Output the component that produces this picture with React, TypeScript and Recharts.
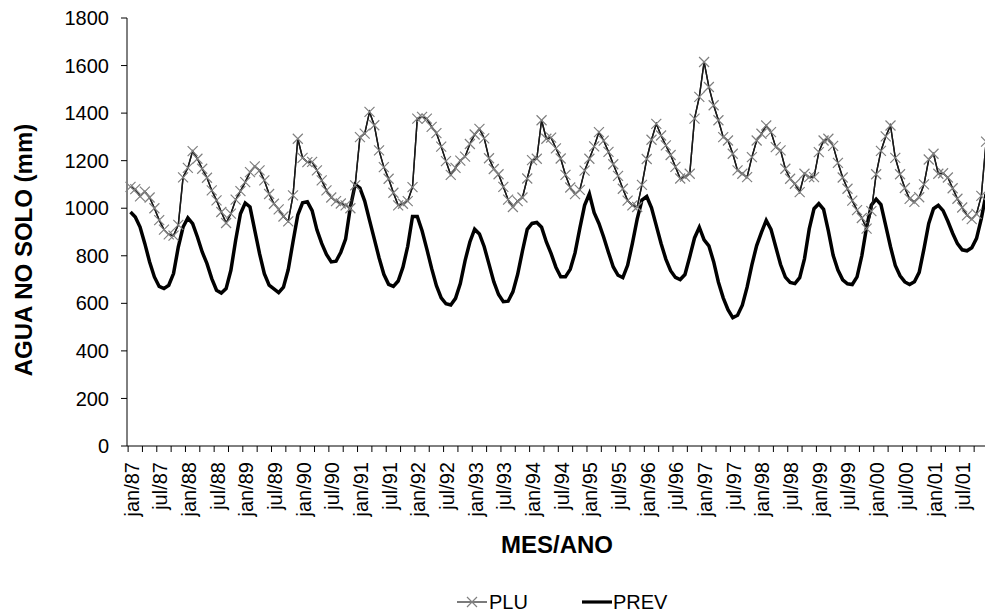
import React from 'react';
import { LineChart, Line, XAxis, YAxis } from 'recharts';

const MONTHS = ['jan', 'fev', 'mar', 'abr', 'mai', 'jun', 'jul', 'ago', 'set', 'out', 'nov', 'dez'];
const YEARS = ['87', '88', '89', '90', '91', '92', '93', '94', '95', '96', '97', '98', '99', '00', '01'];
const CATEGORIES = YEARS.flatMap((y) => MONTHS.map((m) => `${m}/${y}`));

const PLU = [
  1090, 1080, 1050, 1070, 1045, 1000, 950, 910, 890, 885,
  930, 1130, 1170, 1240, 1208, 1166, 1128, 1075, 1033, 984,
  938, 977, 1036, 1072, 1110, 1152, 1176, 1159, 1117, 1060,
  1019, 995, 965, 945, 1054, 1292, 1212, 1194, 1195, 1159,
  1117, 1075, 1045, 1030, 1020, 1012, 1000, 1096, 1299, 1314,
  1405, 1349, 1243, 1173, 1124, 1065, 1012, 1019, 1030, 1089,
  1377, 1384, 1377, 1342, 1316, 1259, 1198, 1140, 1170, 1200,
  1217, 1270, 1310, 1334, 1294, 1210, 1165, 1143, 1090, 1036,
  1005, 1030, 1045, 1125, 1202, 1208, 1370, 1292, 1297, 1252,
  1209, 1140, 1087, 1059, 1077, 1158, 1208, 1260, 1320, 1284,
  1237, 1185, 1136, 1082, 1032, 1012, 1005, 1098, 1207, 1288,
  1355, 1306, 1264, 1224, 1174, 1125, 1133, 1145, 1377, 1468,
  1615, 1510, 1433, 1370, 1299, 1285, 1229, 1159, 1145, 1131,
  1215, 1285, 1313, 1348, 1320, 1257, 1243, 1166, 1124, 1103,
  1068, 1145, 1131, 1131, 1236, 1285, 1292, 1262, 1191, 1129,
  1082, 1032, 992, 959, 914, 988, 1143, 1241, 1302, 1348,
  1212, 1143, 1085, 1039, 1027, 1046, 1100, 1205, 1229, 1145,
  1147, 1129, 1084, 1040, 1003, 970, 954, 976, 1052, 1280,
];

const PREV = [
  984, 963, 921, 851, 774, 711, 671, 662, 676, 725,
  837, 921, 959, 935, 879, 816, 767, 704, 655, 643,
  662, 739, 865, 977, 1022, 1005, 907, 809, 725, 676,
  661, 645, 668, 742, 859, 972, 1023, 1027, 990, 909,
  852, 806, 774, 777, 815, 870, 1005, 1100, 1085, 1030,
  950, 871, 792, 722, 680, 671, 694, 752, 840, 965,
  965, 905, 828, 747, 674, 623, 598, 593, 621, 683,
  780, 858, 912, 892, 838, 765, 691, 637, 607, 609,
  648, 722, 820, 911, 936, 940, 920, 858, 809, 752,
  712, 712, 743, 812, 915, 1012, 1061, 981, 936, 878,
  814, 753, 718, 708, 760, 852, 954, 1034, 1049, 1002,
  927, 852, 786, 737, 709, 700, 721, 796, 875, 920,
  867, 842, 775, 689, 623, 573, 540, 550, 592, 668,
  762, 843, 898, 949, 911, 837, 763, 710, 688, 683,
  708, 787, 913, 998, 1019, 995, 905, 802, 740, 699,
  682, 679, 711, 800, 921, 1013, 1038, 1015, 927, 838,
  759, 716, 690, 679, 691, 730, 829, 936, 998, 1012,
  990, 945, 895, 851, 825, 821, 834, 873, 956, 1060,
];

const Y_TICKS = [0, 200, 400, 600, 800, 1000, 1200, 1400, 1600, 1800];

const data = CATEGORIES.map((mes, i) => ({ mes, PLU: PLU[i], PREV: PREV[i] }));

const FONT = '"Liberation Sans", Arial, Helvetica, sans-serif';
const BAND = 4.78;

function XTick(props: any) {
  const { x, y, payload } = props;
  const value = payload?.value;
  const index = CATEGORIES.indexOf(value);
  const els: any[] = [];
  if (index % 3 === 0) {
    const tx = x - BAND / 2;
    els.push(<line key="t" x1={tx} x2={tx} y1={y} y2={y + 6} stroke="#000" strokeWidth={1} />);
  }
  if (index % 6 === 0) {
    const lx = x + 8;
    const ly = y + 16;
    els.push(
      <text
        key="l"
        x={lx}
        y={ly}
        transform={`rotate(-90 ${lx} ${ly})`}
        textAnchor="end"
        fontSize={20}
        fontFamily={FONT}
        fill="#000"
      >
        {value}
      </text>
    );
  }
  return <g>{els}</g>;
}

function XDot(props: any) {
  const { cx, cy, index } = props;
  if (cx == null || cy == null) return <g key={`e${index}`} />;
  const s = 5;
  return (
    <path
      key={`d${index}`}
      d={`M${cx - s},${cy - s}L${cx + s},${cy + s}M${cx - s},${cy + s}L${cx + s},${cy - s}`}
      stroke="#808080"
      strokeWidth={1.2}
      fill="none"
    />
  );
}

export default function App() {
  return (
    <div
      style={{
        position: 'absolute',
        left: 0,
        top: 0,
        width: 985,
        height: 613,
        overflow: 'hidden',
        background: '#fff',
      }}
    >
      <LineChart
        width={990}
        height={613}
        data={data}
        margin={{ top: 18, right: 1.5, bottom: 97, left: 0 }}
      >
        <XAxis
          dataKey="mes"
          interval={0}
          tick={(p: any) => <XTick {...p} />}
          tickLine={false}
          tickSize={0}
          tickMargin={0}
          axisLine={{ stroke: '#000', strokeWidth: 1 }}
          height={70}
          padding={{ left: 3.5, right: 2.4 }}
        />
        <YAxis
          domain={[0, 1800]}
          ticks={Y_TICKS}
          width={127}
          tickSize={6}
          tickMargin={12}
          interval={0}
          tick={{ fontSize: 20, fill: '#000', fontFamily: FONT }}
          axisLine={{ stroke: '#000', strokeWidth: 1 }}
          tickLine={{ stroke: '#000', strokeWidth: 1 }}
          allowDataOverflow
        />
        <Line
          type="linear"
          dataKey="PREV"
          stroke="#000"
          strokeWidth={3.5}
          dot={false}
          isAnimationActive={false}
        />
        <Line
          type="linear"
          dataKey="PLU"
          stroke="#1a1a1a"
          strokeWidth={1.4}
          dot={(p: any) => <XDot {...p} />}
          isAnimationActive={false}
        />
        <Line
          type="linear"
          dataKey="PLU"
          stroke="#1a1a1a"
          strokeWidth={1.4}
          dot={false}
          legendType="none"
          isAnimationActive={false}
        />
      </LineChart>
      <svg
        width={985}
        height={613}
        style={{ position: 'absolute', left: 0, top: 0, pointerEvents: 'none' }}
      >
        <text
          x={32}
          y={250}
          transform="rotate(-90 32 250)"
          textAnchor="middle"
          fontWeight="bold"
          fontSize={24}
          fontFamily={FONT}
          fill="#000"
        >
          AGUA NO SOLO (mm)
        </text>
        <text
          x={557}
          y={553}
          textAnchor="middle"
          fontWeight="bold"
          fontSize={24}
          fontFamily={FONT}
          fill="#000"
        >
          MES/ANO
        </text>
        <line x1={457} x2={487} y1={602} y2={602} stroke="#333" strokeWidth={1.3} />
        <path d="M467,597L477,607M467,607L477,597" stroke="#808080" strokeWidth={1.2} fill="none" />
        <text x={489} y={609} fontSize={20} fontFamily={FONT} fill="#000">
          PLU
        </text>
        <line x1={582} x2={612} y1={602} y2={602} stroke="#000" strokeWidth={3.2} />
        <text x={613} y={609} fontSize={20} fontFamily={FONT} fill="#000">
          PREV
        </text>
      </svg>
    </div>
  );
}
